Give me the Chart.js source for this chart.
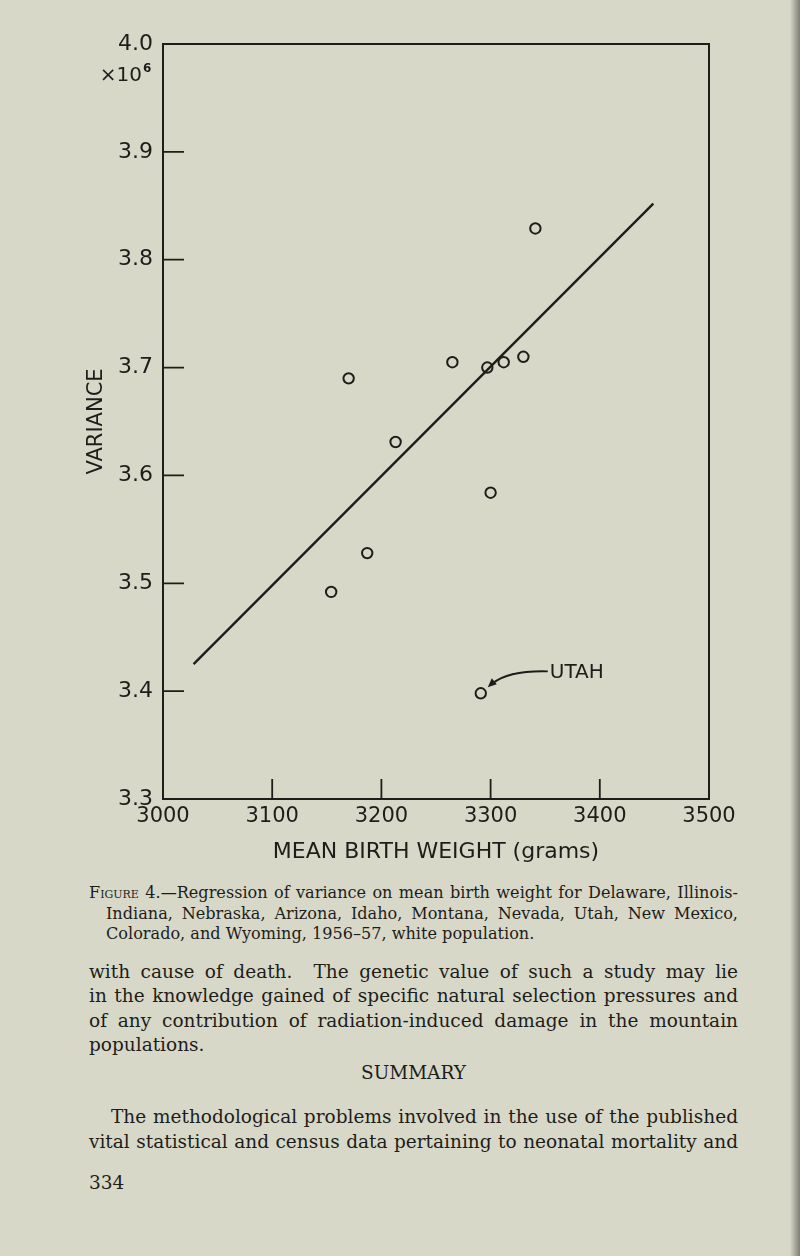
<!DOCTYPE html>
<html>
<head>
<title>Regression of variance on mean birth weight</title>
<script src="https://cdn.jsdelivr.net/npm/chart.js@4.4.0/dist/chart.umd.min.js"></script>
<style>
  body { margin: 0; width: 800px; height: 1256px; background: #d8d8c9; position: relative; overflow: hidden; color: #1d1d1a; }
  #plot { position: absolute; left: 0; top: 0; }
  .edge { position: absolute; right: 0; top: 0; width: 10px; height: 1256px;
          background: linear-gradient(to right, rgba(120,120,105,0), rgba(95,95,85,0.75)); }
  .serif { font-family: "DejaVu Serif", serif; position: absolute; left: 89px; width: 649px; }
  .serif div { text-align: justify; text-align-last: justify; white-space: nowrap; }
  .serif div.last { text-align-last: left; }
  #caption { top: 883px; font-size: 16.1px; line-height: 20.5px; }
  #caption .ind { padding-left: 17px; }
  #body1 { top: 960px; font-size: 18.5px; line-height: 24.3px; }
  #summary { top: 1061px; font-size: 18.5px; line-height: 24px; text-align: center; }
  #body2 { top: 1105px; font-size: 18.5px; line-height: 24.5px; }
  #body2 .first { padding-left: 22px; }
  #page { top: 1171px; font-size: 18.5px; line-height: 24px; }
</style>
</head>
<body>
<canvas id="plot" width="800" height="870"></canvas>

<div class="serif" id="caption">
  <div><span style="font-variant: small-caps">Figure</span> 4.—Regression of variance on mean birth weight for Delaware, Illinois-</div>
  <div class="ind">Indiana, Nebraska, Arizona, Idaho, Montana, Nevada, Utah, New Mexico,</div>
  <div class="ind last">Colorado, and Wyoming, 1956–57, white population.</div>
</div>

<div class="serif" id="body1">
  <div>with cause of death.&nbsp; The genetic value of such a study may lie</div>
  <div>in the knowledge gained of specific natural selection pressures and</div>
  <div>of any contribution of radiation-induced damage in the mountain</div>
  <div class="last">populations.</div>
</div>

<div class="serif" id="summary">SUMMARY</div>

<div class="serif" id="body2">
  <div class="first">The methodological problems involved in the use of the published</div>
  <div>vital statistical and census data pertaining to neonatal mortality and</div>
</div>

<div class="serif" id="page">334</div>

<div class="edge"></div>

<script>
  // mean birth weight (grams) and variance (x10^6) per state
  const birthWeight = [3341, 3170, 3265, 3297, 3312, 3330, 3213, 3300, 3187, 3154, 3291];
  const variance    = [3.829, 3.690, 3.705, 3.700, 3.705, 3.710, 3.631, 3.584, 3.528, 3.492, 3.398];

  // regression line end points
  const fitX = [3028, 3449];
  const fitY = [3.425, 3.852];

  // short tick marks drawn inside the frame
  const xTickMarks = [3100, 3200, 3300, 3400];
  const yTickMarks = [3.4, 3.5, 3.6, 3.7, 3.8, 3.9];

  // labelled point
  const labelIndex = 10;
  const labelText = 'UTAH';

  const ink = '#1d1d1a';

  const frame = {
    id: 'frame',
    beforeDatasetsDraw(chart) {
      const { ctx, chartArea: a, scales: { x, y } } = chart;
      ctx.save();
      ctx.strokeStyle = ink;
      ctx.lineWidth = 2;
      ctx.strokeRect(a.left, a.top, a.right - a.left, a.bottom - a.top);
      ctx.lineWidth = 1.8;
      ctx.beginPath();
      xTickMarks.forEach(v => {
        const px = x.getPixelForValue(v);
        ctx.moveTo(px, a.bottom);
        ctx.lineTo(px, a.bottom - 20);
      });
      yTickMarks.forEach(v => {
        const py = y.getPixelForValue(v);
        ctx.moveTo(a.left, py);
        ctx.lineTo(a.left + 21, py);
      });
      ctx.stroke();

      // exponent under the top label
      ctx.fillStyle = ink;
      ctx.textBaseline = 'middle';
      ctx.textAlign = 'right';
      ctx.font = '20px "DejaVu Sans"';
      ctx.fillText('\u00d7' + '10', 142, 76);
      ctx.textAlign = 'left';
      ctx.font = 'bold 12px "DejaVu Sans"';
      ctx.fillText('6', 143, 69);
      ctx.restore();
    },
    afterDatasetsDraw(chart) {
      const { ctx, scales: { x, y } } = chart;
      const px = x.getPixelForValue(birthWeight[labelIndex]);
      const py = y.getPixelForValue(variance[labelIndex]);
      ctx.save();
      ctx.strokeStyle = ink;
      ctx.fillStyle = ink;
      ctx.lineWidth = 1.8;
      ctx.beginPath();
      ctx.moveTo(px + 67, py - 22);
      ctx.quadraticCurveTo(px + 28, py - 23, px + 12, py - 10);
      ctx.stroke();
      // arrow head
      ctx.beginPath();
      ctx.moveTo(px + 7, py - 6);
      ctx.lineTo(px + 16, py - 9);
      ctx.lineTo(px + 11, py - 15);
      ctx.closePath();
      ctx.fill();
      ctx.font = '20px "DejaVu Sans"';
      ctx.textAlign = 'left';
      ctx.textBaseline = 'middle';
      ctx.fillText(labelText, px + 69, py - 21);
      ctx.restore();
    }
  };

  new Chart(document.getElementById('plot'), {
    data: {
      datasets: [
        {
          type: 'scatter',
          data: birthWeight.map((w, i) => ({ x: w, y: variance[i] })),
          pointStyle: 'circle',
          pointRadius: 5.2,
          pointBorderWidth: 2,
          pointBorderColor: ink,
          pointBackgroundColor: 'rgba(0,0,0,0)'
        },
        {
          type: 'line',
          data: fitX.map((v, i) => ({ x: v, y: fitY[i] })),
          borderColor: ink,
          borderWidth: 2.4,
          pointRadius: 0,
          fill: false
        }
      ]
    },
    options: {
      responsive: false,
      animation: false,
      layout: { padding: { left: 0, top: 44, right: 91, bottom: 0 } },
      plugins: { legend: { display: false }, tooltip: { enabled: false } },
      scales: {
        x: {
          type: 'linear',
          min: 3000,
          max: 3500,
          grid: { display: false, drawTicks: false },
          border: { display: false },
          ticks: {
            stepSize: 100,
            padding: 5,
            color: ink,
            font: { family: 'DejaVu Sans', size: 21 },
            callback: v => String(v)
          },
          title: {
            display: true,
            text: 'MEAN BIRTH WEIGHT (grams)',
            color: ink,
            font: { family: 'DejaVu Sans', size: 22 },
            padding: { top: 0, bottom: 5 }
          },
          afterFit(scale) { scale.height = 71; }
        },
        y: {
          type: 'linear',
          min: 3.3,
          max: 4.0,
          grid: { display: false, drawTicks: false },
          border: { display: false },
          ticks: {
            stepSize: 0.1,
            padding: 10,
            color: ink,
            font: { family: 'DejaVu Sans', size: 22 },
            callback: v => v.toFixed(1)
          },
          title: {
            display: true,
            text: 'VARIANCE',
            color: ink,
            font: { family: 'DejaVu Sans', size: 21 },
            padding: { top: 84, bottom: 0 }
          },
          afterFit(scale) { scale.width = 163; }
        }
      }
    },
    plugins: [frame]
  });
</script>
</body>
</html>
